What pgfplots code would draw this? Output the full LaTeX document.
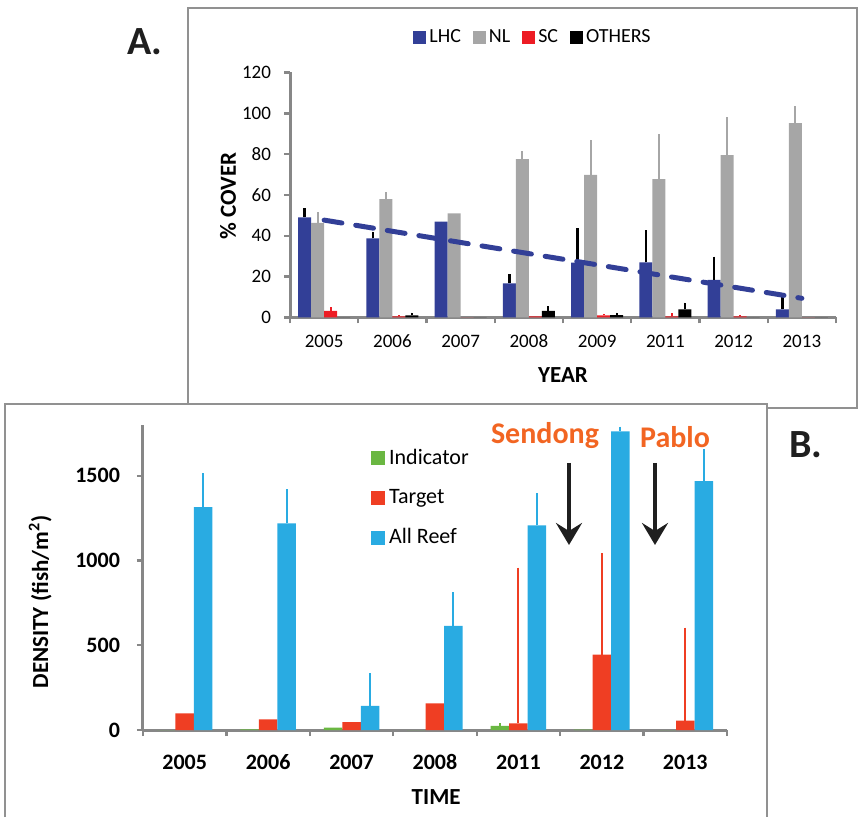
\documentclass[border=0pt]{standalone}
\usepackage{fontspec}
\setmainfont{Carlito}
\usepackage{pgfplots}
\pgfplotsset{compat=1.18}
\usetikzlibrary{arrows.meta}
\definecolor{lhc}{RGB}{50,63,151}
\definecolor{nl}{RGB}{166,166,166}
\definecolor{sc}{RGB}{237,28,36}
\definecolor{ind}{RGB}{106,183,66}
\definecolor{tgt}{RGB}{239,62,35}
\definecolor{reef}{RGB}{41,171,226}
\definecolor{orng}{RGB}{242,101,34}
\definecolor{axgrey}{RGB}{135,135,135}
\definecolor{framegrey}{RGB}{145,145,145}
\pgfplotsset{
  sqA/.style={legend image code/.code={\fill[##1] (0pt,-3.25pt) rectangle (6.5pt,3.25pt);}},
  sqB/.style={legend image code/.code={\fill[##1] (0pt,-3.5pt) rectangle (7pt,3.5pt);}},
}
\begin{document}
\begin{tikzpicture}[x=0.5pt,y=-0.5pt]
\path (0,0) rectangle (858,817);
% panel frames
\draw[framegrey, line width=1pt] (187.5,404) -- (187.5,8.5) -- (856.5,8.5) -- (856.5,408.5) -- (767,408.5);
\draw[framegrey, line width=1pt] (5,817) -- (5,404) -- (767,404) -- (767,817);
\node[font=\fontsize{20}{24}\selectfont\bfseries, text=black!88] at (145,42) {A.};
\node[font=\fontsize{20}{24}\selectfont\bfseries, text=black!88] at (806,445) {B.};

% ---------------- Panel A ----------------
\begin{axis}[
  at={(145pt,-158.75pt)}, anchor=south west, scale only axis,
  width=273pt, height=122.5pt,
  xmin=-0.5, xmax=7.5, ymin=0, ymax=120,
  axis x line=bottom, axis y line=left,
  axis line style={axgrey, line width=1.5pt, -},
  xtick={0,...,7},
  xticklabels={2005,2006,2007,2008,2009,2011,2012,2013},
  ytick={0,20,...,120},
  minor xtick={-0.5,0.5,...,7.5},
  tick align=outside, major tick length=3pt, minor tick length=3pt,
  tick style={axgrey, line width=1.2pt},
  major x tick style={draw=none},
  /pgf/number format/assume math mode=true,
  ticklabel style={font=\fontsize{9.5}{11}\selectfont},
  xticklabel style={anchor=center, yshift=-9pt},
  yticklabel style={anchor=east, xshift=-3pt},
  xlabel={YEAR}, ylabel={\% COVER},
  label style={font=\fontsize{11.5}{13}\selectfont\bfseries},
  xlabel style={at={(axis description cs:0.5,-0.235)}, anchor=center},
  ylabel style={at={(axis description cs:-0.1136,0.496)}, anchor=center},
  ybar=0pt, bar width=6.5pt,
  legend columns=4,
  legend style={at={(axis description cs:0.446,1.142)}, anchor=center, draw=none, fill=none,
    font=\fontsize{10}{12}\selectfont, inner sep=0pt,
    nodes={inner xsep=1.5pt},
    /tikz/every even column/.append style={column sep=4.5pt}},
  clip=false,
]
\addplot[fill=lhc, draw=none, sqA, error bars/.cd, y dir=plus, y explicit, error mark=none,
  error bar style={black, line width=1.2pt}]
  coordinates {(0,49.1) +- (0,4.5) (1,38.8) +- (0,3.2) (2,46.9) +- (0,0) (3,16.7) +- (0,4.6)
               (4,26.9) +- (0,16.9) (5,27.0) +- (0,15.8) (6,18.4) +- (0,11.4) (7,4.0) +- (0,7.9)};
\addlegendentry{LHC}
\addplot[fill=nl, draw=none, sqA, error bars/.cd, y dir=plus, y explicit, error mark=none,
  error bar style={nl, line width=1pt}]
  coordinates {(0,46.4) +- (0,5.1) (1,58.0) +- (0,3.3) (2,51.0) +- (0,0) (3,77.6) +- (0,3.9)
               (4,69.9) +- (0,17.1) (5,67.8) +- (0,22.0) (6,79.5) +- (0,18.5) (7,95.2) +- (0,8.3)};
\addlegendentry{NL}
\addplot[fill=sc, draw=none, sqA, error bars/.cd, y dir=plus, y explicit, error mark=none,
  error bar style={sc, line width=1pt}]
  coordinates {(0,3.2) +- (0,1.9) (1,0.5) +- (0,0.5) (2,0) +- (0,0) (3,0.5) +- (0,0)
               (4,1.0) +- (0,0.8) (5,0.5) +- (0,1.5) (6,0.5) +- (0,0.5) (7,0) +- (0,0)};
\addlegendentry{SC}
\addplot[fill=black, draw=none, sqA, error bars/.cd, y dir=plus, y explicit, error mark=none,
  error bar style={black, line width=1pt}]
  coordinates {(0,0) +- (0,0) (1,1.1) +- (0,1.3) (2,0) +- (0,0) (3,3.2) +- (0,2.4)
               (4,1.2) +- (0,1.2) (5,4.0) +- (0,3.3) (6,0) +- (0,0) (7,0) +- (0,0)};
\addlegendentry{OTHERS}
\addplot[sharp plot, forget plot, lhc, line width=2.5pt, line cap=round, dash pattern=on 9pt off 7pt]
  coordinates {(0,47.7) (7,9.4)};
\end{axis}

% ---------------- Panel B ----------------
\begin{axis}[
  at={(71.5pt,-365pt)}, anchor=south west, scale only axis,
  width=292pt, height=152.5pt,
  xmin=-0.5, xmax=6.5, ymin=0, ymax=1800,
  axis x line=bottom, axis y line=left,
  axis line style={axgrey, line width=1.5pt, -},
  xtick={0,...,6},
  xticklabels={2005,2006,2007,2008,2011,2012,2013},
  ytick={0,500,1000,1500},
  minor xtick={-0.5,0.5,...,6.5},
  tick align=outside, major tick length=3pt, minor tick length=3pt,
  tick style={axgrey, line width=1.2pt},
  major x tick style={draw=none},
  /pgf/number format/assume math mode=true,
  /pgf/number format/1000 sep={},
  ticklabel style={font=\fontsize{11}{13}\selectfont\bfseries},
  xticklabel style={anchor=center, yshift=-13pt},
  yticklabel style={anchor=east, xshift=-5pt},
  xlabel={TIME}, ylabel={DENSITY (fish/m\textsuperscript{2})},
  label style={font=\fontsize{11.5}{13}\selectfont\bfseries},
  xlabel style={at={(axis description cs:0.502,-0.22)}, anchor=center},
  ylabel style={at={(axis description cs:-0.176,0.42)}, anchor=center},
  ybar=0pt, bar width=9.25pt,
  legend cell align=left,
  legend style={at={(axis description cs:0.39,0.935)}, anchor=north west, draw=none, fill=none,
    font=\fontsize{11}{13}\selectfont, inner sep=0pt, row sep=7pt},
  clip=false,
]
\addplot[fill=ind, draw=none, sqB, error bars/.cd, y dir=plus, y explicit, error mark=none,
  error bar style={ind, line width=1pt}]
  coordinates {(0,0) +- (0,0) (1,3) +- (0,0) (2,14) +- (0,0) (3,0) +- (0,0)
               (4,24) +- (0,15) (5,2) +- (0,0) (6,0) +- (0,0)};
\addlegendentry{Indicator}
\addplot[fill=tgt, draw=none, sqB, error bars/.cd, y dir=plus, y explicit, error mark=none,
  error bar style={tgt, line width=1pt}]
  coordinates {(0,98) +- (0,0) (1,63) +- (0,0) (2,47) +- (0,0) (3,157) +- (0,0)
               (4,39) +- (0,920) (5,445) +- (0,598) (6,55) +- (0,549)};
\addlegendentry{Target}
\addplot[fill=reef, draw=none, sqB, error bars/.cd, y dir=plus, y explicit, error mark=none,
  error bar style={reef, line width=1pt}]
  coordinates {(0,1315) +- (0,201) (1,1220) +- (0,201) (2,142) +- (0,193) (3,614) +- (0,199)
               (4,1207) +- (0,191) (5,1762) +- (0,29) (6,1469) +- (0,188)};
\addlegendentry{All Reef}
\end{axis}

% annotations panel B
\node[text=orng, font=\fontsize{15}{18}\selectfont\bfseries] at (545,436) {Sendong};
\node[text=orng, font=\fontsize{15}{18}\selectfont\bfseries] at (675,437) {Pablo};
\draw[black!88, line width=2pt, -{Stealth[length=11pt, width=13pt, inset=4pt]}] (569,463) -- (569,545);
\draw[black!88, line width=2pt, -{Stealth[length=11pt, width=13pt, inset=4pt]}] (655,463) -- (655,545);
\end{tikzpicture}
\end{document}
